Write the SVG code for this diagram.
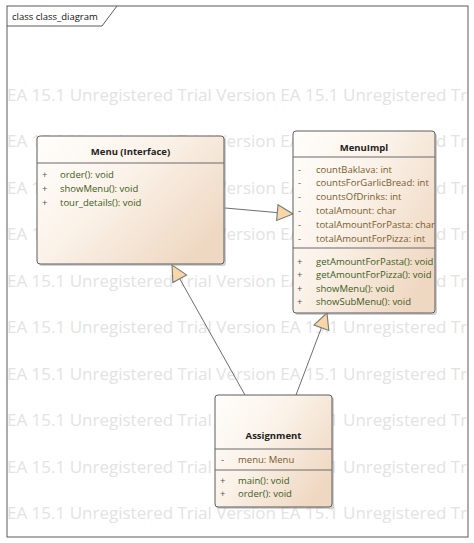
<svg xmlns="http://www.w3.org/2000/svg" width="474" height="543" viewBox="0 0 474 543">
<defs>
<linearGradient id="nodeFill" x1="0" y1="0" x2="1" y2="0.7">
<stop offset="0" stop-color="#fffefc"/>
<stop offset="0.45" stop-color="#fbf3ea"/>
<stop offset="1" stop-color="#efd8c2"/>
</linearGradient>
<clipPath id="implClip"><rect x="293" y="131" width="142" height="182"/></clipPath>
<marker id="hollowTri" markerUnits="userSpaceOnUse" markerWidth="18" markerHeight="18" viewBox="0 0 16 16" refX="15" refY="8" orient="auto">
<path d="M1,1 L15,8 L1,15 Z" fill="#f9d6a5" stroke="#7a7a7a" stroke-width="1"/>
</marker>
</defs>
<style>
.wm{font-family:"Open Sans","Noto Sans",sans-serif;font-size:17px;fill:#e3e3e3}
.frame{fill:#ffffff;stroke:#5a5a5a;stroke-width:1}
.flabel{font-family:"Open Sans","Noto Sans",sans-serif;font-size:9.5px;fill:#111}
.box{fill:url(#nodeFill);stroke:#5c5c5c;stroke-width:1}
.shadow{fill:#9a9a9a;opacity:0.45}
.div{stroke:#6a6a6a;stroke-width:1}
.title{font-family:"Open Sans","Noto Sans",sans-serif;font-size:9.5px;font-weight:bold;fill:#222;text-anchor:middle}
.attr{font-family:"Open Sans","Noto Sans",sans-serif;font-size:9.5px;fill:#7a5a2c}
.meth{font-family:"Open Sans","Noto Sans",sans-serif;font-size:9.5px;fill:#3d5c22}
.vis{font-family:"Open Sans","Noto Sans",sans-serif;font-size:9.5px;fill:#555}
.conn{stroke:#6e6e6e;stroke-width:1;fill:none}
</style>

<g id="frame">
<rect class="frame" x="7" y="6" width="461" height="531"/>
<path d="M7,26 L102,26 L117,6" fill="none" stroke="#5a5a5a" stroke-width="1"/>
<text class="flabel" x="12" y="20">class class_diagram</text>
</g>

<g id="watermark">
<text class="wm" x="7" y="101">EA 15.1 Unregistered Trial Version EA 15.1 Unregistered Tr</text>
<text class="wm" x="7" y="147">EA 15.1 Unregistered Trial Version EA 15.1 Unregistered Tr</text>
<text class="wm" x="7" y="194">EA 15.1 Unregistered Trial Version EA 15.1 Unregistered Tr</text>
<text class="wm" x="7" y="240">EA 15.1 Unregistered Trial Version EA 15.1 Unregistered Tr</text>
<text class="wm" x="7" y="287">EA 15.1 Unregistered Trial Version EA 15.1 Unregistered Tr</text>
<text class="wm" x="7" y="333">EA 15.1 Unregistered Trial Version EA 15.1 Unregistered Tr</text>
<text class="wm" x="7" y="380">EA 15.1 Unregistered Trial Version EA 15.1 Unregistered Tr</text>
<text class="wm" x="7" y="426">EA 15.1 Unregistered Trial Version EA 15.1 Unregistered Tr</text>
<text class="wm" x="7" y="473">EA 15.1 Unregistered Trial Version EA 15.1 Unregistered Tr</text>
<text class="wm" x="7" y="519">EA 15.1 Unregistered Trial Version EA 15.1 Unregistered Tr</text>
</g>

<g id="connectors">
<line class="conn" x1="225" y1="208" x2="293" y2="214" marker-end="url(#hollowTri)"/>
<line class="conn" x1="245" y1="395" x2="172" y2="265" marker-end="url(#hollowTri)"/>
<line class="conn" x1="296" y1="395" x2="327" y2="313" marker-end="url(#hollowTri)"/>
</g>

<g id="menu">
<rect class="shadow" x="39" y="138" width="187" height="128" rx="3"/>
<rect class="box" x="37" y="136" width="187" height="128" rx="3"/>
<line class="div" x1="37" y1="163" x2="224" y2="163"/>
<text class="title" x="130.5" y="155">Menu (Interface)</text>
<text class="vis" x="42" y="177.5">+</text><text class="meth" x="60" y="177.5">order(): void</text>
<text class="vis" x="42" y="191.5">+</text><text class="meth" x="60" y="191.5">showMenu(): void</text>
<text class="vis" x="42" y="205.5">+</text><text class="meth" x="60" y="205.5">tour_details(): void</text>
</g>

<g id="menuimpl">
<rect class="shadow" x="295" y="133" width="142" height="182" rx="3"/>
<rect class="box" x="293" y="131" width="142" height="182" rx="3"/>
<line class="div" x1="293" y1="157" x2="435" y2="157"/>
<line class="div" x1="293" y1="248" x2="435" y2="248"/>
<text class="title" x="364" y="151">MenuImpl</text>
<g clip-path="url(#implClip)">
<text class="vis" x="298" y="172.5">-</text><text class="attr" x="316" y="172.5">countBaklava: int</text>
<text class="vis" x="298" y="186.3">-</text><text class="attr" x="316" y="186.3">countsForGarlicBread: int</text>
<text class="vis" x="298" y="200.1">-</text><text class="attr" x="316" y="200.1">countsOfDrinks: int</text>
<text class="vis" x="298" y="213.9">-</text><text class="attr" x="316" y="213.9">totalAmount: char</text>
<text class="vis" x="298" y="227.7">-</text><text class="attr" x="316" y="227.7">totalAmountForPasta: char</text>
<text class="vis" x="298" y="241.5">-</text><text class="attr" x="316" y="241.5">totalAmountForPizza: int</text>
<text class="vis" x="297" y="264.5">+</text><text class="meth" x="316" y="264.5">getAmountForPasta(): void</text>
<text class="vis" x="297" y="278">+</text><text class="meth" x="316" y="278">getAmountForPizza(): void</text>
<text class="vis" x="297" y="291.5">+</text><text class="meth" x="316" y="291.5">showMenu(): void</text>
<text class="vis" x="297" y="305">+</text><text class="meth" x="316" y="305">showSubMenu(): void</text>
</g>
</g>

<g id="assignment">
<rect class="shadow" x="217" y="397" width="117" height="112" rx="3"/>
<rect class="box" x="215" y="395" width="117" height="112" rx="3"/>
<line class="div" x1="215" y1="449" x2="332" y2="449"/>
<line class="div" x1="215" y1="470" x2="332" y2="470"/>
<text class="title" x="273.5" y="439">Assignment</text>
<text class="vis" x="221" y="462.5">-</text><text class="attr" x="238" y="462.5">menu: Menu</text>
<text class="vis" x="220" y="483.5">+</text><text class="meth" x="238" y="483.5">main(): void</text>
<text class="vis" x="220" y="497">+</text><text class="meth" x="238" y="497">order(): void</text>
</g>
</svg>
